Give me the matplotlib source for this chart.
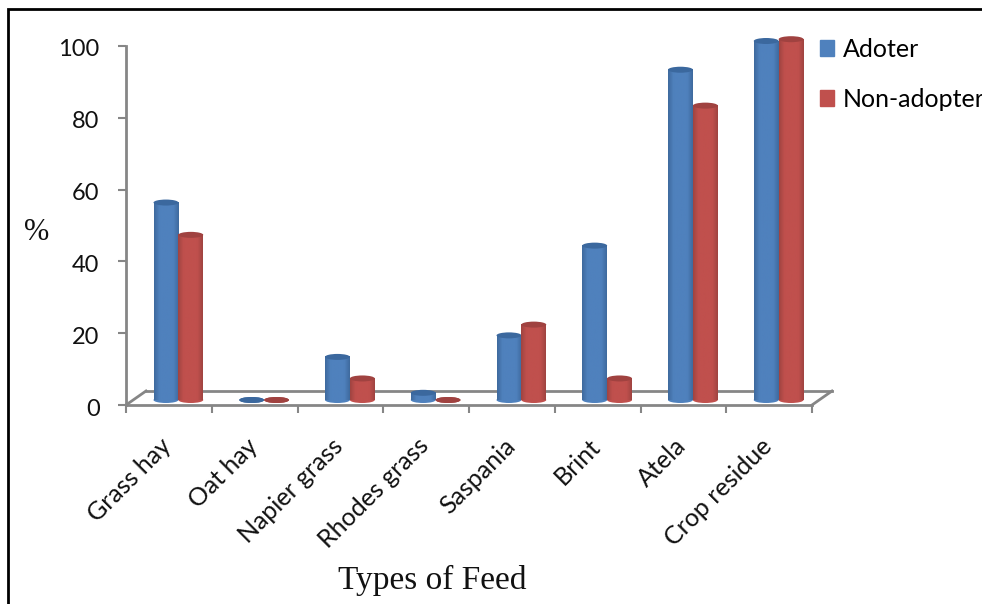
import numpy as np
import matplotlib
matplotlib.use('Agg')
import matplotlib.pyplot as plt
from matplotlib.colors import LinearSegmentedColormap
from matplotlib.lines import Line2D
from matplotlib.patches import Ellipse, Patch, Rectangle
from matplotlib.transforms import IdentityTransform, ScaledTranslation

# Datos del grafico
categories = ['Grass hay', 'Oat hay', 'Napier grass', 'Rhodes grass',
              'Saspania', 'Brint', 'Atela', 'Crop residue']
adopter = [55, 0, 12, 2, 18, 43, 92, 100]
non_adopter = [46, 0, 6, 0, 21, 6, 82, 100.5]
y_ticks = [0, 20, 40, 60, 80, 100]

W, H = 982, 604
GRAY = '#868686'
BAR_W = 0.29

plt.rcParams['font.family'] = ['Lato', 'DejaVu Sans']
fig = plt.figure(figsize=(W / 100, H / 100), dpi=100)
ax = fig.add_axes([126 / W, 1 - 405 / H, (812 - 126) / W, (405 - 46) / H])
ax.set_xlim(0, 8)
ax.set_ylim(0, 100)
ax.patch.set_alpha(0)

# Desplazamiento de la profundidad 3D
bar_trans = ax.transData + ScaledTranslation(9.5 / 100, 5 / 100, fig.dpi_scale_trans)
back_trans = ax.transData + ScaledTranslation(20 / 100, 14 / 100, fig.dpi_scale_trans)


def draw_cylinders(xs, values, mid, dark, top_color, z):
    cmap = LinearSegmentedColormap.from_list('cyl', [(0, dark), (0.22, mid), (0.78, mid), (1, dark)])
    grad = np.linspace(0, 1, 64).reshape(1, -1)
    cap = 6 / (ax.bbox.height / 100)
    for x, v in zip(xs, values):
        ax.add_patch(Ellipse((x, 0), BAR_W, cap, color=mid if v > 0 else top_color, lw=0, zorder=z,
                             transform=bar_trans, clip_on=False))
        if v > 0:
            im = ax.imshow(grad, cmap=cmap, aspect='auto', zorder=z + 0.1,
                           extent=(x - BAR_W / 2, x + BAR_W / 2, 0, v),
                           transform=bar_trans)
            im.set_clip_on(False)
        ax.add_patch(Ellipse((x, v), BAR_W, cap, color=top_color, lw=0,
                             zorder=z + 0.2, transform=bar_trans, clip_on=False))


pos = np.arange(len(categories)) + 0.5
draw_cylinders(pos - BAR_W / 2, adopter, '#4f81bd', '#3f6a9e', '#3b689e', 3)
draw_cylinders(pos + BAR_W / 2, non_adopter, '#c0504d', '#a04441', '#a04240', 4)
ax.set_xlim(0, 8)
ax.set_ylim(0, 100)

# Ejes
for s in ['top', 'right']:
    ax.spines[s].set_visible(False)
for s in ['left', 'bottom']:
    ax.spines[s].set_color(GRAY)
    ax.spines[s].set_linewidth(2)
ax.set_yticks(y_ticks)
ax.set_xticks(np.arange(len(categories) + 1))
ax.set_xticklabels([])
ax.tick_params(axis='both', color=GRAY, width=1.5, length=6)
ax.tick_params(axis='y', labelsize=17, labelcolor='#111111', pad=13)
for label in ax.get_yticklabels():
    label.set_transform(label.get_transform() + ScaledTranslation(0, -2 / 100, fig.dpi_scale_trans))

# Suelo 3D
front_l = ax.transData.transform((0, 0))
front_r = ax.transData.transform((8, 0))
back = np.array([20, 14])
ax.plot([0, 8], [0, 0], color=GRAY, lw=2, transform=back_trans, clip_on=False, zorder=1)
for p in (front_l, front_r):
    fig.add_artist(Line2D([p[0], p[0] + back[0]], [p[1], p[1] + back[1]], color=GRAY,
                          lw=2, transform=IdentityTransform(), zorder=1))

# Etiquetas rotadas
for i, name in enumerate(categories):
    ax.annotate(name, xy=(i + 0.5, 0), xycoords=('data', 'axes fraction'),
                xytext=(-9, -29), textcoords='offset pixels', rotation=45, ha='right',
                va='top', rotation_mode='anchor', fontsize=18, color='#111111')

fig.text(432 / W, 1 - 580 / H, 'Types of Feed', family='Liberation Serif', fontsize=24,
         ha='center', va='center', color='#111111')
fig.text(37 / W, 1 - 232 / H, '%', family='Liberation Serif', fontsize=22,
         ha='center', va='center', color='#111111')

# Leyenda
handles = [Patch(color='#4f81bd'), Patch(color='#c0504d')]
fig.legend(handles, ['Adoter', 'Non-adopter'], loc='upper left',
           bbox_to_anchor=(816 / W, 1 - 34 / H), frameon=False, fontsize=18,
           handlelength=0.56, handleheight=0.56, handletextpad=0.36, labelspacing=1.08,
           borderpad=0.15, borderaxespad=0)

# Marco negro del recorte
fig.add_artist(Rectangle((8 / W, -0.05), 1.1, 1.05 - 9 / H, fill=False, ec='black',
                         lw=2, transform=fig.transFigure))

fig.savefig('out.png', dpi=100)
